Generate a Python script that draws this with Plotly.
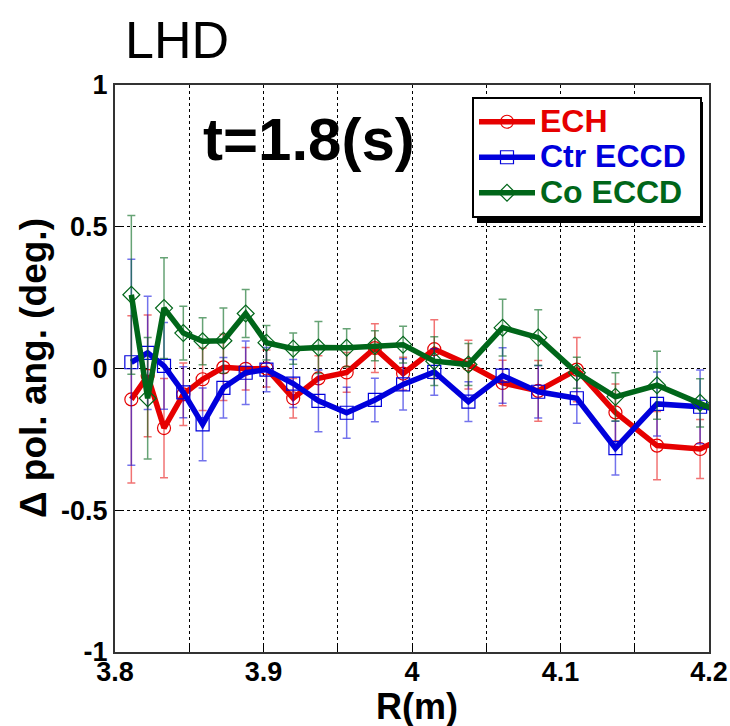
import plotly.graph_objects as go

# Major radius positions of the channels (m)
r_m = [3.811, 3.822, 3.833, 3.846, 3.859, 3.873, 3.888, 3.902, 3.920, 3.937, 3.956,
       3.975, 3.994, 4.015, 4.038, 4.061, 4.085, 4.111, 4.137, 4.165, 4.194, 4.224]

# Change of polarization angle (deg.) and its uncertainty
ech = [-0.109, -0.026, -0.21, -0.091, -0.038, 0.004, -0.001, 0.0, -0.105, -0.035, -0.014,
       0.072, -0.018, 0.068, 0.014, -0.051, -0.079, -0.004, -0.155, -0.272, -0.284, -0.21]
ech_err = [0.295, 0.215, 0.175, 0.11, 0.11, 0.117, 0.075, 0.065, 0.07, 0.08, 0.07,
           0.086, 0.058, 0.104, 0.086, 0.08, 0.107, 0.113, 0.1, 0.12, 0.104, 0.0]

ctr = [0.022, 0.055, 0.009, -0.084, -0.197, -0.068, -0.015, -0.004, -0.053, -0.114, -0.156,
       -0.111, -0.056, -0.012, -0.117, -0.025, -0.082, -0.105, -0.281, -0.125, -0.135, -0.15]
ctr_err = [0.363, 0.2, 0.153, 0.09, 0.128, 0.107, 0.112, 0.078, 0.085, 0.109, 0.09,
           0.077, 0.09, 0.082, 0.07, 0.098, 0.093, 0.088, 0.095, 0.113, 0.13, 0.0]

co = [0.26, -0.105, 0.213, 0.125, 0.096, 0.098, 0.194, 0.091, 0.07, 0.074, 0.073,
      0.08, 0.084, 0.026, 0.014, 0.144, 0.109, -0.015, -0.1, -0.059, -0.121, -0.19]
co_err = [0.28, 0.214, 0.178, 0.095, 0.083, 0.115, 0.085, 0.061, 0.055, 0.092, 0.067,
          0.053, 0.065, 0.086, 0.074, 0.1, 0.098, 0.055, 0.085, 0.12, 0.085, 0.0]

x_ticks = [3.8, 3.9, 4.0, 4.1, 4.2]
x_labels = ["3.8", "3.9", "4", "4.1", "4.2"]
y_ticks = [-1, -0.5, 0, 0.5, 1]
y_labels = ["-1", "-0.5", "0", "0.5", "1"]

FONT = "Liberation Sans, Arial, sans-serif"

# plot area in pixels
L, R, T, B = 115, 709, 85, 652
W, H = R - L, B - T

series = [
    ("ECH", ech, ech_err, "#e60000", "rgba(230,0,0,0.55)", "circle-open"),
    ("Ctr ECCD", ctr, ctr_err, "#0000dc", "rgba(0,0,220,0.55)", "square-open"),
    ("Co ECCD", co, co_err, "#006619", "rgba(0,102,25,0.6)", "diamond-open"),
]

fig = go.Figure()
for name, y, err, col, ecol, sym in series:
    fig.add_trace(go.Scatter(
        x=r_m, y=y, mode="lines+markers",
        name=f"<span style='color:{col};font-size:32px'><b>{name}&nbsp;</b></span>",
        line=dict(color=col, width=5.5),
        marker=dict(symbol=sym, size=13, color=col, line=dict(width=1.2, color=col)),
        error_y=dict(type="data", array=err, visible=True, color=ecol,
                     thickness=1.5, width=4),
    ))

axis_common = dict(
    showline=True, linecolor="#333", linewidth=2, mirror=True,
    ticks="inside", ticklen=6, tickcolor="black",
    showgrid=True, gridcolor="black", gridwidth=1, griddash="dot",
    zeroline=False, automargin=False,
    tickfont=dict(family=FONT, size=27, color="black", weight="bold"),
)

fig.update_xaxes(
    range=[3.8, 4.2], tickvals=x_ticks, ticktext=x_labels, ticklabelstandoff=-5,
    minor=dict(dtick=0.05, tick0=3.8, showgrid=True, gridcolor="black",
               griddash="dot", ticks="inside", ticklen=6, tickcolor="black"),
    **axis_common,
)
fig.update_yaxes(
    range=[-1, 1], tickvals=y_ticks, ticktext=y_labels,
    **axis_common,
)

# axis titles
fig.add_annotation(text="<b>R(m)</b>", xref="paper", yref="paper",
                   x=(417 - L) / W, y=(B - 706) / H, xanchor="center", yanchor="middle",
                   showarrow=False, font=dict(family=FONT, size=36, color="black"))
fig.add_annotation(text="<b>Δ pol. ang. (deg.)</b>", xref="paper", yref="paper",
                   x=(33 - L) / W, y=(B - 368) / H, xanchor="center", yanchor="middle",
                   textangle=-90, showarrow=False,
                   font=dict(family=FONT, size=37, color="black"))

fig.add_annotation(text="LHD", xref="paper", yref="paper", x=(123 - L) / W, y=1.0,
                   xanchor="left", yanchor="bottom", yshift=14, showarrow=False,
                   font=dict(family=FONT, size=52, color="black"))
fig.add_annotation(text="<b>t=1.8(s)</b>", xref="paper", yref="paper",
                   x=(309 - L) / W, y=(B - 139) / H,
                   xanchor="center", yanchor="middle", showarrow=False,
                   font=dict(family=FONT, size=60, color="black"))

# drop shadow behind the legend box
fig.add_shape(type="rect", xref="paper", yref="paper",
              x0=(477 - L) / W, x1=(703 - L) / W,
              y0=(B - 223) / H, y1=(B - 102) / H,
              fillcolor="black", line=dict(width=0), layer="above")

fig.update_layout(
    width=730, height=726,
    margin=dict(l=L, r=730 - R, t=T, b=726 - B),
    paper_bgcolor="white", plot_bgcolor="white",
    font=dict(family=FONT, color="black"),
    legend=dict(x=(472 - L) / W, y=(B - 97) / H, xanchor="left", yanchor="top",
                bgcolor="white", bordercolor="black", borderwidth=2,
                font=dict(family=FONT, size=25), itemwidth=56,
                tracegroupgap=0),
    showlegend=True,
)

fig.write_html("out.html")
